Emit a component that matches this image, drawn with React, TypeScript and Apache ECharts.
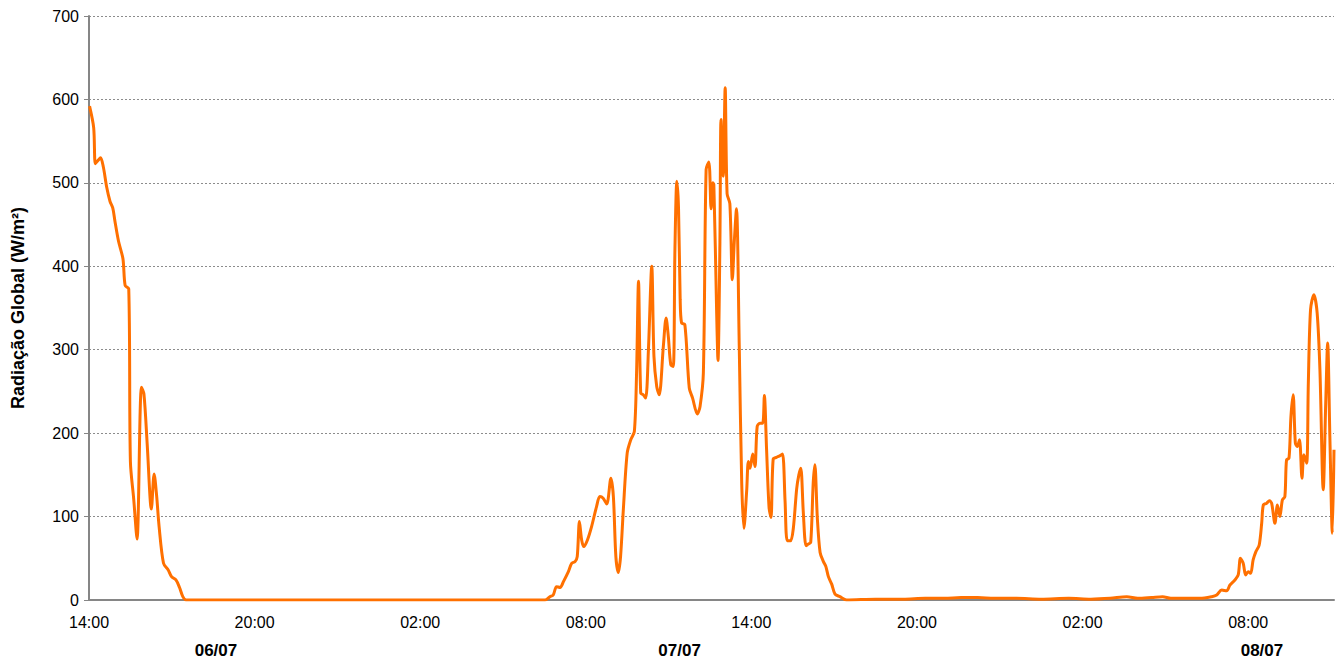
import React, { useEffect, useRef } from "react";
import * as echarts from "echarts";

// hours elapsed since 06/07 14:00
const hoursSince14h: number[] = [
  0.02, 0.17, 0.23, 0.33, 0.42, 0.52, 0.64, 0.76, 0.86, 0.94, 1.07, 1.23, 1.31, 1.44, 1.5, 1.62, 1.74, 1.9, 1.99, 2.11,
  2.26, 2.36, 2.45, 2.54, 2.7, 2.87, 2.99, 3.15, 3.28, 3.4, 3.52,
  16.52, 16.7, 16.82, 16.94, 17.07, 17.19, 17.37, 17.49, 17.61, 17.69, 17.77, 17.85, 17.93, 18.06, 18.21, 18.39, 18.51,
  18.63, 18.76, 18.91, 19.0, 19.09, 19.18, 19.26, 19.36, 19.5, 19.63, 19.76, 19.84, 19.91, 19.99, 20.08, 20.17, 20.27,
  20.39, 20.47, 20.57, 20.66, 20.81, 20.91, 20.99, 21.08, 21.17, 21.23, 21.3, 21.36, 21.42, 21.47, 21.59, 21.75, 21.87,
  22.04, 22.14, 22.26, 22.36, 22.46, 22.54, 22.6, 22.64, 22.74, 22.79, 22.86, 22.9, 22.98, 23.05, 23.12, 23.22, 23.31,
  23.38, 23.46, 23.56, 23.65, 23.73, 23.83, 23.89, 23.95, 24.05, 24.13, 24.21, 24.31, 24.41, 24.47, 24.55, 24.64, 24.71,
  24.79, 24.91, 25.04, 25.13, 25.22, 25.3, 25.42, 25.52, 25.64, 25.72, 25.79, 25.88, 25.98, 26.06, 26.15, 26.24, 26.3,
  26.39, 26.49, 26.61, 26.7, 26.79, 26.91, 27.03, 27.21, 27.45,
  28.5, 29.5, 30.3, 31.0, 31.6, 32.2, 32.8, 33.6, 34.5, 35.5, 36.3, 37.0, 37.6, 38.0, 38.5, 38.9, 39.2, 39.53,
  40.25, 40.68, 40.86, 41.04, 41.22, 41.34, 41.52, 41.64, 41.72, 41.82, 41.91, 42.0, 42.09, 42.18, 42.28, 42.4, 42.49,
  42.55, 42.67, 42.77, 42.85, 42.97, 43.06, 43.15, 43.24, 43.33, 43.39, 43.48, 43.55, 43.63, 43.71, 43.78, 43.86, 43.95,
  44.02, 44.12, 44.18, 44.26, 44.38, 44.5, 44.6, 44.72, 44.81, 44.88, 44.96, 45.05, 45.11,
];

// global radiation (W/m²)
const radiacao: number[] = [
  592, 566, 523, 527, 530, 519, 495, 478, 470, 454, 430, 409, 377, 373, 166, 121, 73, 255, 247, 186,
  109, 151, 125, 88, 44, 36, 28, 24, 15, 4, 0,
  0, 4, 6, 16, 15, 22, 34, 44, 46, 52, 94, 72, 64, 72, 88, 112, 124,
  122, 115, 146, 124, 52, 33, 52, 108, 176, 192, 202, 272, 382, 248, 246, 242, 300,
  400, 292, 256, 246, 304, 338, 316, 282, 280, 420, 502, 470, 360, 332, 330, 254, 242,
  223, 232, 272, 516, 525, 469, 500, 498, 347, 287, 429, 576, 508, 614, 487, 475, 384,
  429, 469, 305, 140, 86, 131, 166, 158, 175, 160, 208, 212, 212, 245, 181, 111, 99,
  169, 171, 173, 175, 119, 71, 71, 86, 133, 150, 158, 106, 65, 67, 69, 140, 162,
  98, 57, 46, 40, 28, 19, 7, 4, 0,
  1, 1, 2, 2, 3, 3, 2, 2, 1, 2, 1, 2, 4, 2, 3, 4, 2, 2,
  2, 4, 6, 12, 11, 18, 24, 30, 50, 44, 30, 34, 32, 48, 58, 66, 92,
  114, 116, 119, 116, 92, 114, 100, 120, 124, 168, 170, 220, 246, 188, 184, 192, 146,
  174, 164, 260, 348, 366, 344, 276, 132, 236, 308, 196, 80, 180,
];

const dateLabels: string[] = ["06/07", "07/07", "08/07"];
const dateLabelHours: number[] = [4.6, 21.4, 42.5];

const FONT = "'Liberation Sans', Arial, sans-serif";

export default function App() {
  const ref = useRef<HTMLDivElement>(null);
  useEffect(() => {
    if (!ref.current) return;
    const chart = echarts.init(ref.current, undefined, { renderer: "svg" });
    const data = hoursSince14h.map((h, i) => [h, radiacao[i]]);
    const gridLeft = 89;
    const gridRight = 9;
    const xMax = 45.11;
    const plotW = 1343 - gridLeft - gridRight;
    chart.setOption({
      animation: false,
      backgroundColor: "#ffffff",
      grid: { left: gridLeft, right: gridRight, top: 16, bottom: 63 },
      xAxis: {
        type: "value",
        min: 0,
        max: xMax,
        interval: 6,
        axisLine: { show: true, lineStyle: { color: "#868686", width: 2 } },
        axisTick: { show: false },
        splitLine: { show: false },
        axisLabel: {
          showMaxLabel: false,
          margin: 14,
          color: "#000",
          fontFamily: FONT,
          fontSize: 16,
          formatter: (v: number) => {
            const hh = (14 + Math.round(v)) % 24;
            return (hh < 10 ? "0" : "") + hh + ":00";
          },
        },
      },
      yAxis: {
        type: "value",
        min: 0,
        max: 700,
        interval: 100,
        name: "Radiação Global (W/m²)",
        nameLocation: "middle",
        nameGap: 62,
        nameRotate: 90,
        nameTextStyle: { fontFamily: FONT, fontSize: 18, fontWeight: "bold", color: "#000" },
        axisLine: { show: true, lineStyle: { color: "#868686", width: 2 } },
        axisTick: { show: true, length: 5, lineStyle: { color: "#868686", width: 1 } },
        splitLine: { show: true, lineStyle: { color: "#8c8c8c", type: [2, 2], width: 1 } },
        axisLabel: { color: "#000", fontFamily: FONT, fontSize: 16, margin: 10 },
      },
      graphic: dateLabels.map((t, i) => ({
        type: "text",
        x: gridLeft + (dateLabelHours[i] / xMax) * plotW,
        y: 650,
        style: {
          text: t,
          fontFamily: FONT,
          fontSize: 17,
          fontWeight: "bold",
          fill: "#000",
          textAlign: "center",
          textVerticalAlign: "middle",
        },
      })),
      series: [
        {
          type: "line",
          data,
          showSymbol: false,
          smooth: 0.3,
          lineStyle: { color: "#FF7000", width: 3 },
          itemStyle: { color: "#FF7000" },
        },
      ],
    });
    return () => chart.dispose();
  }, []);
  return <div ref={ref} style={{ position: "fixed", left: 0, top: 0, width: 1343, height: 663 }} />;
}
